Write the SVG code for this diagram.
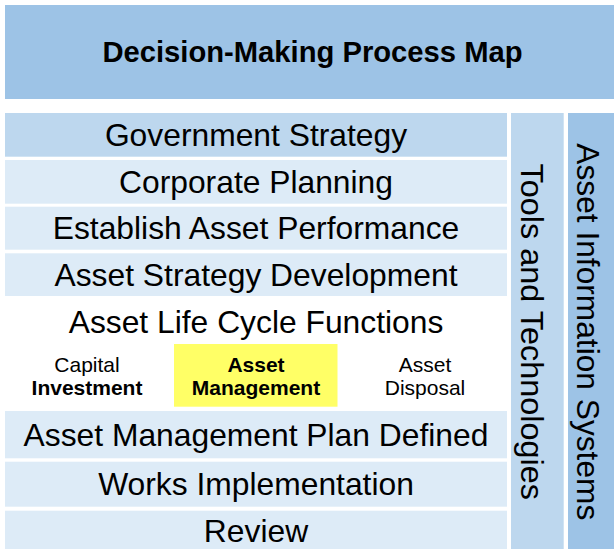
<svg xmlns="http://www.w3.org/2000/svg" width="614" height="549" viewBox="0 0 614 549">
<style>
text{font-family:"Liberation Sans",Arial,sans-serif;fill:#000}
.big{font-size:31.8px;text-anchor:middle}
.small{font-size:21px;text-anchor:middle}
.b{font-weight:bold}
.dark{fill:#9DC3E6}
.mid{fill:#BDD7EE}
.light{fill:#DDEBF7}
</style>
<rect width="614" height="549" fill="#fff"/>
<g id="title">
<rect class="dark" x="5" y="5" width="609" height="94"/>
<text x="312.5" y="62.3" font-size="29.2" font-weight="bold" text-anchor="middle">Decision-Making Process Map</text>
</g>
<g id="government-strategy">
<rect class="mid" x="5" y="113" width="502" height="43.7"/>
<text class="big" x="256" y="146">Government Strategy</text>
</g>
<g id="corporate-planning">
<rect class="light" x="5" y="160" width="502" height="43.7"/>
<text class="big" x="256" y="192.5">Corporate Planning</text>
</g>
<g id="establish-asset-performance">
<rect class="light" x="5" y="206.7" width="502" height="43"/>
<text class="big" x="256" y="239">Establish Asset Performance</text>
</g>
<g id="asset-strategy-development">
<rect class="light" x="5" y="253.3" width="502" height="42.7"/>
<text class="big" x="256" y="285.7">Asset Strategy Development</text>
</g>
<g id="asset-life-cycle-functions">
<text class="big" x="256" y="333.3">Asset Life Cycle Functions</text>
</g>
<g id="capital-investment">
<text class="small" x="87" y="371.7">Capital</text>
<text class="small b" x="87" y="394.8">Investment</text>
</g>
<g id="asset-management">
<rect x="174" y="344" width="163.5" height="62.7" fill="#FFFF66"/>
<text class="small b" x="256" y="371.5">Asset</text>
<text class="small b" x="256" y="394.8">Management</text>
</g>
<g id="asset-disposal">
<text class="small" x="425" y="371.5">Asset</text>
<text class="small" x="425" y="394.8">Disposal</text>
</g>
<g id="asset-management-plan-defined">
<rect class="light" x="5" y="411" width="502" height="47.3"/>
<text class="big" x="256" y="445.5">Asset Management Plan Defined</text>
</g>
<g id="works-implementation">
<rect class="light" x="5" y="461.7" width="502" height="45"/>
<text class="big" x="256" y="495">Works Implementation</text>
</g>
<g id="review">
<rect class="light" x="5" y="510.7" width="502" height="38.3"/>
<text class="big" x="256" y="541.5">Review</text>
</g>
<g id="tools-and-technologies">
<rect class="mid" x="511" y="113" width="52.7" height="436"/>
<text font-size="31.8" textLength="336.5" lengthAdjust="spacingAndGlyphs" transform="translate(520.7,163.5) rotate(90)">Tools and Technologies</text>
</g>
<g id="asset-information-systems">
<rect class="dark" x="568" y="113" width="46" height="436"/>
<text font-size="31.8" textLength="377" lengthAdjust="spacingAndGlyphs" transform="translate(576.5,143.3) rotate(90)">Asset Information Systems</text>
</g>
</svg>
